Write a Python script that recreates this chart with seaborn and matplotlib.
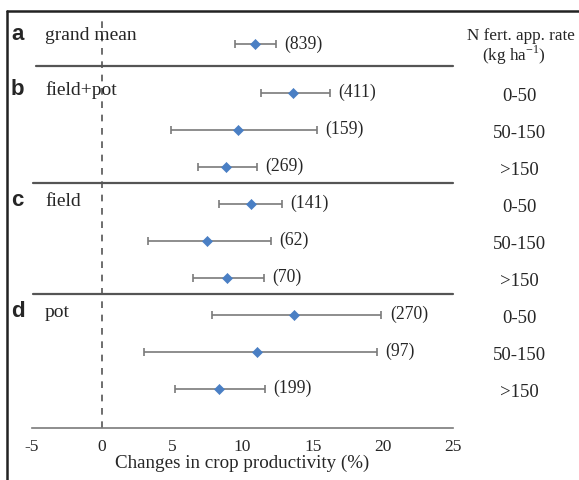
import matplotlib
matplotlib.use("Agg")
import matplotlib.pyplot as plt
import seaborn as sns
import pandas as pd
from matplotlib.lines import Line2D
import matplotlib.transforms as mtransforms

# data
groups = ['a', 'b', 'b', 'b', 'c', 'c', 'c', 'd', 'd', 'd']
rates = ['', '0-50', '50-150', '>150', '0-50', '50-150', '>150', '0-50', '50-150', '>150']
mean = [10.9, 13.6, 9.7, 8.8, 10.6, 7.5, 8.9, 13.7, 11.0, 8.3]
ci_low = [9.5, 11.3, 4.9, 6.8, 8.3, 3.3, 6.5, 7.8, 3.0, 5.2]
ci_high = [12.4, 16.2, 15.3, 11.0, 12.8, 12.0, 11.5, 19.9, 19.6, 11.6]
n_obs = [839, 411, 159, 269, 141, 62, 70, 270, 97, 199]
group_names = {'a': 'grand mean', 'b': 'field+pot', 'c': 'field', 'd': 'pot'}

df = pd.DataFrame({'grupo': groups, 'taxa': rates, 'media': mean,
                   'low': ci_low, 'high': ci_high, 'n': n_obs})
# posicao vertical: uma linha por registro, espaco extra depois da media geral
df['pos'] = [i + (0.32 if i > 0 else 0) for i in range(len(df))]

sns.set_style('white')
plt.rcParams['font.family'] = ['Liberation Serif', 'DejaVu Serif']

W, H = 579, 480
fig = plt.figure(figsize=(W / 100, H / 100), dpi=100)
ax = fig.add_axes([32 / W, 1 - 428 / H, (453 - 32) / W, (428 - 18) / H])

cinza = '#7a7a7a'
ax.hlines(df['pos'], df['low'], df['high'], color=cinza, lw=1.2, zorder=2)
ax.plot(df['low'], df['pos'], ls='none', marker='|', ms=6, mew=1.2, color=cinza, zorder=2)
ax.plot(df['high'], df['pos'], ls='none', marker='|', ms=6, mew=1.2, color=cinza, zorder=2)
sns.scatterplot(data=df, x='media', y='pos', marker='D', s=26, color='#4a7fc4',
                edgecolor='#4a7fc4', linewidth=0.5, zorder=3, ax=ax, legend=False)

for _, r in df.iterrows():
    ax.annotate(f"({r['n']})", (r['high'], r['pos']), xytext=(6, 0),
                textcoords='offset points', ha='left', va='center', fontsize=12.7)

ax.axvline(0, color='#555555', ls=(0, (4, 4)), lw=1.2, zorder=1)

ax.set_xlim(-5, 25)
ax.set_ylim(10.38, -0.70)
ax.set_xticks(range(-5, 26, 5))
ax.set_xticklabels([str(v) for v in range(-5, 26, 5)], fontsize=12.5)
ax.set_yticks([])
ax.set_ylabel('')
ax.set_xlabel('Changes in crop productivity (%)', fontsize=13.7, labelpad=0)
for s in ['top', 'right', 'left']:
    ax.spines[s].set_visible(False)
ax.spines['bottom'].set_color(cinza)
ax.spines['bottom'].set_linewidth(1.2)
ax.tick_params(axis='x', direction='in', length=5, width=1.2, color=cinza, pad=8)

# linhas separadoras entre grupos
trans = mtransforms.blended_transform_factory(ax.transAxes, ax.transData)
first = df.groupby('grupo')['pos'].min()
last = df.groupby('grupo')['pos'].max()
for g_prev, g_next, x0 in [('a', 'b', 0.01), ('b', 'c', 0.003), ('c', 'd', 0.003)]:
    y = (last[g_prev] + first[g_next]) / 2 - 0.05
    ax.plot([x0, 1.0], [y, y], color='#555555', lw=1.6, transform=trans, clip_on=False)

# rotulos dos grupos (linha de base)
for g, nome in group_names.items():
    y = first[g] + (-0.11 if g == 'a' else 0.07)
    ax.text(-0.05, y, g, transform=trans, fontsize=16, fontweight='bold',
            family=['Liberation Sans', 'DejaVu Sans'], ha='left', va='baseline')
    ax.text(0.031, y, nome, transform=trans, fontsize=14, ha='left', va='baseline')

# coluna da direita
for _, r in df.iterrows():
    if r['taxa']:
        ax.text(1.158, r['pos'] + 0.09, r['taxa'], transform=trans, fontsize=13.5,
                ha='center', va='center')
ax.text(1.161, -0.22, 'N fert. app. rate', transform=trans, fontsize=12.3,
        ha='center', va='center')
ax.text(1.145, 0.30, r'(kg ha$^{\mathregular{-1}}$)', transform=trans, fontsize=12.3,
        ha='center', va='center')

# moldura
fig.add_artist(Line2D([7 / W, 1.0], [1 - 11 / H, 1 - 11 / H], color='#222222', lw=1.8,
                      transform=fig.transFigure))
fig.add_artist(Line2D([7 / W, 7 / W], [1 - 11 / H, 0], color='#222222', lw=1.8,
                      transform=fig.transFigure))

fig.savefig('out.png', dpi=100)
